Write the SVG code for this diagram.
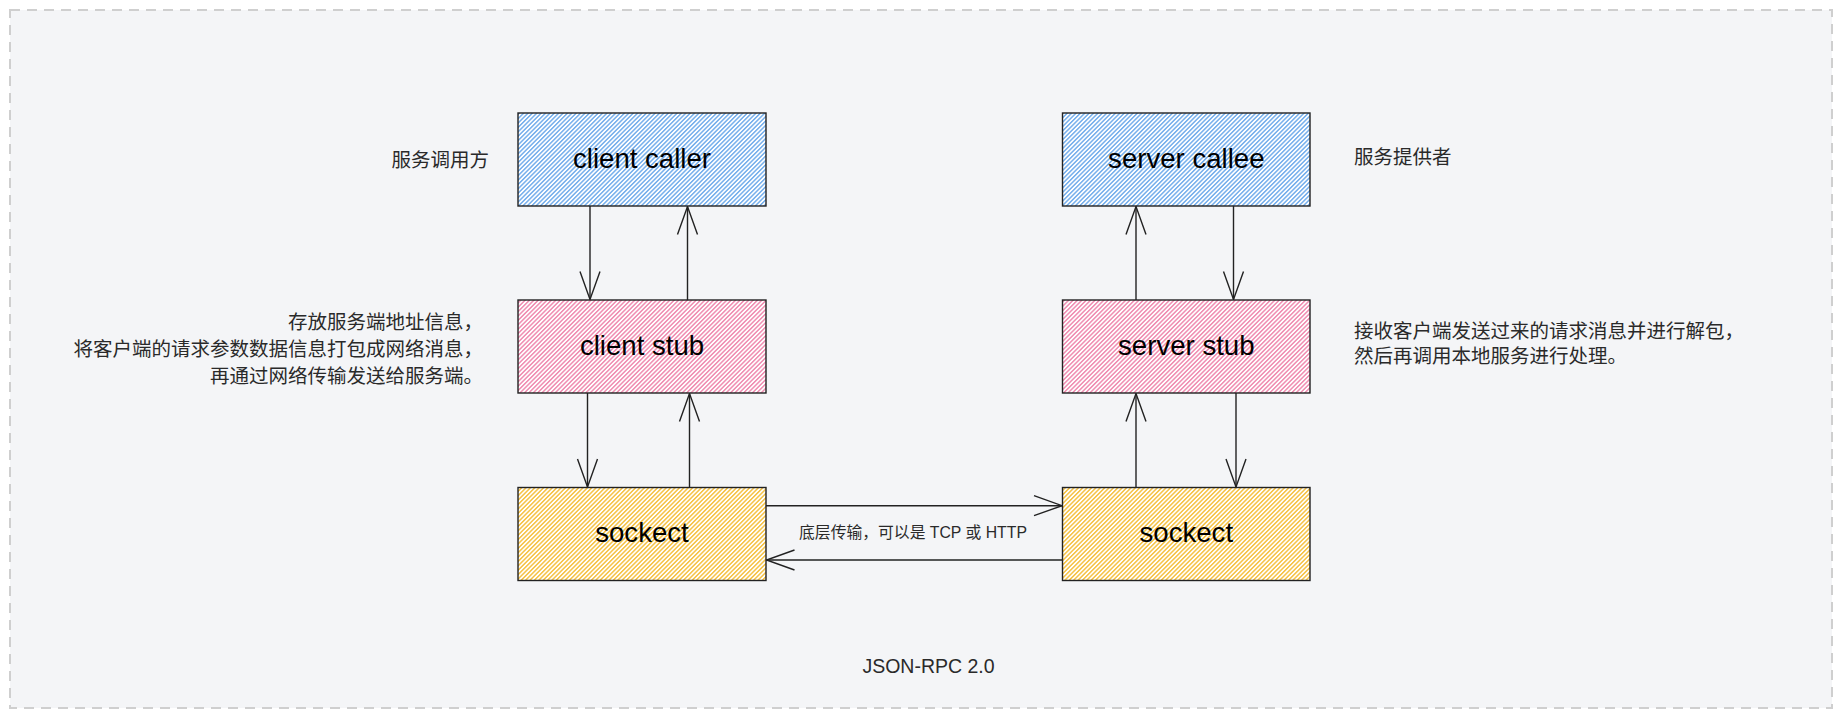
<svg xmlns="http://www.w3.org/2000/svg" width="1842" height="718" viewBox="0 0 1842 718">
<style>
.frame{fill:#f4f5f7;stroke:#cfcfcf;stroke-width:2;stroke-dasharray:10 7}
.box{stroke:#222;stroke-width:1.4}
.blue{fill:url(#hBlue)}
.pink{fill:url(#hPink)}
.yellow{fill:url(#hYellow)}
.bt{font-family:"Liberation Sans",Arial,sans-serif;font-size:27.6px;fill:#000;text-anchor:middle;dominant-baseline:central}
.lbl{font-family:"Liberation Sans","Noto Sans CJK SC",sans-serif;font-size:19.5px;fill:#2a2a2a;dominant-baseline:central}
.edge{stroke:#222;stroke-width:1.4;fill:none;marker-end:url(#open)}
</style>
<defs>
<pattern id="hBlue" width="3.1" height="3.1" patternUnits="userSpaceOnUse" patternTransform="rotate(45)">
<rect width="3.1" height="3.1" fill="#ffffff"/><rect width="1.5" height="3.1" fill="#76afec"/>
</pattern>
<pattern id="hPink" width="3.1" height="3.1" patternUnits="userSpaceOnUse" patternTransform="rotate(45)">
<rect width="3.1" height="3.1" fill="#ffffff"/><rect width="1.5" height="3.1" fill="#f08db1"/>
</pattern>
<pattern id="hYellow" width="3.1" height="3.1" patternUnits="userSpaceOnUse" patternTransform="rotate(45)">
<rect width="3.1" height="3.1" fill="#ffffff"/><rect width="1.5" height="3.1" fill="#f6c245"/>
</pattern>
<marker id="open" markerUnits="userSpaceOnUse" markerWidth="40" markerHeight="40" refX="0" refY="0" orient="auto" overflow="visible">
<path d="M-28,-10 L0,0 L-28,10" fill="none" stroke="#222" stroke-width="1.4"/>
</marker>
</defs>
<rect x="0" y="0" width="1842" height="718" fill="#ffffff"/>
<rect class="frame" x="10" y="10" width="1822" height="698"/>

<g id="connectors">
<line class="edge" x1="590" y1="206" x2="590" y2="299.5"/>
<line class="edge" x1="687.5" y1="300" x2="687.5" y2="206.5"/>
<line class="edge" x1="587.5" y1="393" x2="587.5" y2="487"/>
<line class="edge" x1="689.5" y1="487.5" x2="689.5" y2="393.5"/>
<line class="edge" x1="1136" y1="300" x2="1136" y2="206.5"/>
<line class="edge" x1="1233.5" y1="206" x2="1233.5" y2="299.5"/>
<line class="edge" x1="1136" y1="487.5" x2="1136" y2="393.5"/>
<line class="edge" x1="1236" y1="393" x2="1236" y2="487"/>
<line class="edge" x1="766" y1="505.7" x2="1062" y2="505.7"/>
<line class="edge" x1="1062.5" y1="560" x2="766.5" y2="560"/>
<text class="lbl" x="913" y="532.7" text-anchor="middle" style="font-size:15.8px">底层传输，可以是 TCP 或 HTTP</text>
</g>

<g id="client-caller">
<rect class="box blue" x="518" y="113" width="248" height="93"/>
<text class="bt" x="642" y="158">client caller</text>
</g>
<g id="client-stub">
<rect class="box pink" x="518" y="300" width="248" height="93"/>
<text class="bt" x="642" y="345">client stub</text>
</g>
<g id="client-socket">
<rect class="box yellow" x="518" y="487.5" width="248" height="93"/>
<text class="bt" x="642" y="532.5">sockect</text>
</g>
<g id="server-callee">
<rect class="box blue" x="1062.5" y="113" width="247.5" height="93"/>
<text class="bt" x="1186.3" y="158">server callee</text>
</g>
<g id="server-stub">
<rect class="box pink" x="1062.5" y="300" width="247.5" height="93"/>
<text class="bt" x="1186.3" y="345">server stub</text>
</g>
<g id="server-socket">
<rect class="box yellow" x="1062.5" y="487.5" width="247.5" height="93"/>
<text class="bt" x="1186.3" y="532.5">sockect</text>
</g>

<g id="label-caller">
<text class="lbl" x="489" y="160" text-anchor="end">服务调用方</text>
</g>
<g id="label-callee">
<text class="lbl" x="1354" y="157" text-anchor="start">服务提供者</text>
</g>
<g id="label-client-stub">
<text class="lbl" x="483" y="321.5" text-anchor="end">存放服务端地址信息，</text>
<text class="lbl" x="483" y="349" text-anchor="end">将客户端的请求参数数据信息打包成网络消息，</text>
<text class="lbl" x="483" y="375.5" text-anchor="end">再通过网络传输发送给服务端。</text>
</g>
<g id="label-server-stub">
<text class="lbl" x="1354" y="331" text-anchor="start">接收客户端发送过来的请求消息并进行解包，</text>
<text class="lbl" x="1354" y="356" text-anchor="start">然后再调用本地服务进行处理。</text>
</g>
<g id="title">
<text class="lbl" x="928.5" y="666" text-anchor="middle">JSON-RPC 2.0</text>
</g>
</svg>
